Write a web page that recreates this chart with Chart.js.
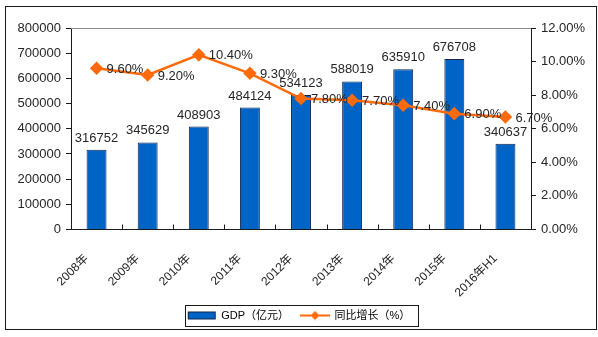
<!DOCTYPE html>
<html>
<head>
<meta charset="utf-8">
<script src="https://cdn.jsdelivr.net/npm/chart.js@4/dist/chart.umd.min.js"></script>
<style>
html,body{margin:0;padding:0;background:#fff;}
#wrap{width:598px;height:337px;position:relative;}
</style>
</head>
<body>
<div id="wrap"><canvas id="c" width="598" height="337"></canvas></div>
<script>
const categories = ['2008年','2009年','2010年','2011年','2012年','2013年','2014年','2015年','2016年H1'];
const gdpValues = [316752,345629,408903,484124,534123,588019,635910,676708,340637];
const growthValues = [9.6,9.2,10.4,9.3,7.8,7.7,7.4,6.9,6.7];
const seriesNames = ['GDP（亿元）','同比增长（%）'];

const BAR_COLOR = '#0063C6';
const BAR_BORDER = '#12244a';
const LINE_COLOR = '#FF6A0A';
const TEXT = '#262626';
const FONT = "'Liberation Sans', Arial, 'Noto Sans CJK SC', sans-serif";

function swatch(kind){
  const c = document.createElement('canvas');
  c.width = 30; c.height = 10;
  const g = c.getContext('2d');
  if (kind === 'bar') {
    g.fillStyle = BAR_COLOR; g.fillRect(1.5,1.5,27,7);
    g.strokeStyle = BAR_BORDER; g.lineWidth = 1; g.strokeRect(1.5,1.5,27,7);
  } else {
    g.strokeStyle = LINE_COLOR; g.lineWidth = 2;
    g.beginPath(); g.moveTo(0,5); g.lineTo(30,5); g.stroke();
    g.fillStyle = LINE_COLOR;
    g.beginPath(); g.moveTo(15,0.5); g.lineTo(19.5,5); g.lineTo(15,9.5); g.lineTo(10.5,5); g.closePath(); g.fill();
  }
  return c;
}

const decor = {
  id: 'decor',
  beforeDraw(chart){
    const ctx = chart.ctx;
    ctx.save();
    ctx.fillStyle = '#fff';
    ctx.fillRect(0,0,chart.width,chart.height);
    ctx.strokeStyle = '#1a1a1a'; ctx.lineWidth = 1;
    ctx.strokeRect(5.5,6.5,591,323);
    ctx.restore();
  },
  afterDatasetsDraw(chart){
    const ctx = chart.ctx;
    const a = chart.chartArea;
    const x = chart.scales.x;
    ctx.save();
    ctx.strokeStyle = '#8c8c8c'; ctx.lineWidth = 1;
    ctx.beginPath(); ctx.moveTo(a.left, a.top + 0.5); ctx.lineTo(a.right, a.top + 0.5); ctx.stroke();
    ctx.strokeStyle = '#1a1a1a';
    for (let i = 0; i < categories.length - 1; i++) {
      const px = Math.round((x.getPixelForValue(i) + x.getPixelForValue(i+1)) / 2) + 0.5;
      ctx.beginPath(); ctx.moveTo(px, a.bottom); ctx.lineTo(px, a.bottom - 5); ctx.stroke();
    }
    ctx.fillStyle = TEXT;
    ctx.font = '13px ' + FONT;
    const barMeta = chart.getDatasetMeta(1);
    ctx.textAlign = 'center'; ctx.textBaseline = 'alphabetic';
    barMeta.data.forEach((el, i) => {
      ctx.fillText(String(gdpValues[i]), el.x, el.y - 8);
    });
    const lineMeta = chart.getDatasetMeta(0);
    ctx.textAlign = 'left'; ctx.textBaseline = 'middle';
    lineMeta.data.forEach((el, i) => {
      ctx.fillText(growthValues[i].toFixed(2) + '%', el.x + 10, el.y + 1);
    });
    ctx.restore();
  },
  afterDraw(chart){
    const lg = chart.legend;
    if (!lg || !lg.legendHitBoxes || !lg.legendHitBoxes.length) return;
    const hb = lg.legendHitBoxes;
    let l = Infinity, r = -Infinity, t = Infinity, b = -Infinity;
    hb.forEach(h => { l = Math.min(l, h.left); r = Math.max(r, h.left + h.width); t = Math.min(t, h.top); b = Math.max(b, h.top + h.height); });
    const ctx = chart.ctx;
    ctx.save();
    ctx.strokeStyle = '#1a1a1a'; ctx.lineWidth = 1;
    const cy = (t + b) / 2;
    ctx.strokeRect(Math.round(l - 3) + 0.5, Math.round(cy - 10.5) + 0.5, Math.round(r - l + 10), 21);
    ctx.restore();
  }
};

new Chart(document.getElementById('c'), {
  data: {
    labels: categories,
    datasets: [
      {
        type: 'line', label: seriesNames[1], data: growthValues, yAxisID: 'y1', order: 0,
        borderColor: LINE_COLOR, backgroundColor: LINE_COLOR, borderWidth: 2.5,
        pointStyle: 'rectRot', pointRadius: 5, pointHoverRadius: 5, tension: 0
      },
      {
        type: 'bar', label: seriesNames[0], data: gdpValues, yAxisID: 'y', order: 1,
        backgroundColor: BAR_COLOR, borderColor: BAR_BORDER, borderWidth: 1,
        barPercentage: 0.39, categoryPercentage: 1
      }
    ]
  },
  options: {
    responsive: false, animation: false,
    layout: { padding: { top: 28, left: 0, right: 0, bottom: 6 } },
    plugins: {
      tooltip: { enabled: false },
      legend: {
        display: true, position: 'bottom',
        labels: {
          usePointStyle: true, pointStyleWidth: 28, padding: 12,
          color: '#111', font: { size: 11, family: FONT },
          generateLabels(chart){
            return [
              { text: seriesNames[0], pointStyle: swatch('bar'), datasetIndex: 1, fillStyle: BAR_COLOR, strokeStyle: BAR_BORDER, lineWidth: 0, hidden: false },
              { text: seriesNames[1], pointStyle: swatch('line'), datasetIndex: 0, fillStyle: LINE_COLOR, strokeStyle: LINE_COLOR, lineWidth: 0, hidden: false }
            ];
          }
        }
      }
    },
    scales: {
      x: {
        grid: { display: false },
        border: { display: true, color: '#1a1a1a', width: 1 },
        ticks: { minRotation: 45, maxRotation: 45, autoSkip: false, color: TEXT, font: { size: 12, family: FONT }, padding: 14, labelOffset: -10 },
        afterFit(s){ s.height = 68.5; }
      },
      y: {
        position: 'left', min: 0, max: 800000,
        ticks: { stepSize: 100000, color: TEXT, font: { size: 13, family: FONT }, padding: 5, callback: v => String(v) },
        grid: { drawOnChartArea: false, drawTicks: true, tickLength: 5, color: '#1a1a1a' },
        border: { display: true, color: '#1a1a1a', width: 1 },
        afterFit(s){ s.width = 71; }
      },
      y1: {
        position: 'right', min: 0, max: 12,
        ticks: { stepSize: 2, color: TEXT, font: { size: 13, family: FONT }, padding: 5, callback: v => Number(v).toFixed(2) + '%' },
        grid: { drawOnChartArea: false, drawTicks: true, tickLength: 5, color: '#1a1a1a' },
        border: { display: true, color: '#1a1a1a', width: 1 },
        afterFit(s){ s.width = 67; }
      }
    }
  },
  plugins: [decor]
});
</script>
</body>
</html>
